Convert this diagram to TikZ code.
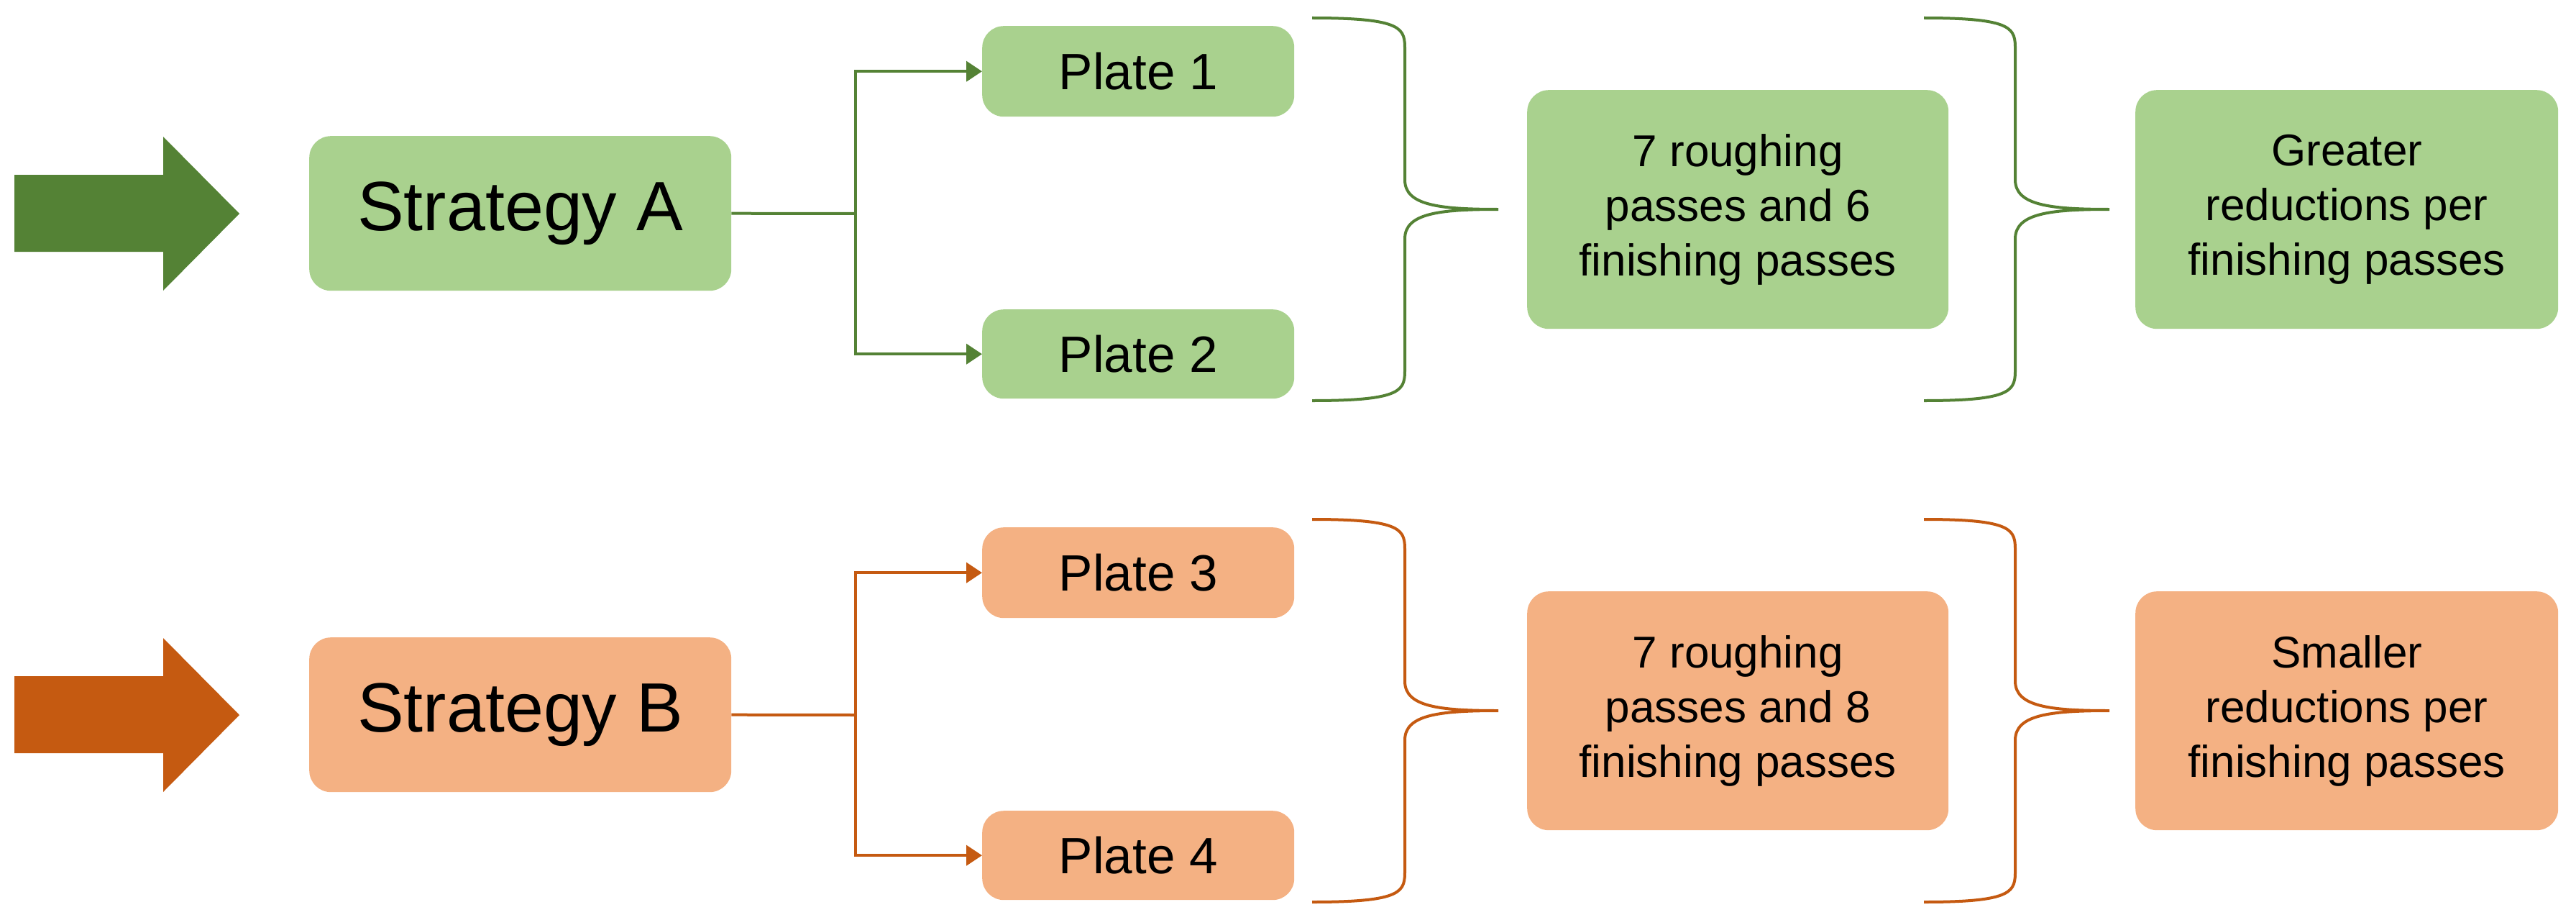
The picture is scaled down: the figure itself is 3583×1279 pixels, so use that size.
\documentclass[tikz,border=0pt]{standalone}
\usepackage{fontspec}
\setmainfont{Liberation Sans}
\usetikzlibrary{arrows.meta}
\definecolor{gD}{HTML}{548235}\definecolor{gL}{HTML}{A9D18E}
\definecolor{oD}{HTML}{C55A11}\definecolor{oL}{HTML}{F4B183}
\tikzset{box/.style={rounded corners=30pt,inner sep=0pt,anchor=north west},
 con/.style={line width=4pt},
 brace/.style={line width=4pt}}
\newcommand{\rowdraw}[6]{% #1 suffix, #2 yoff, #3 dark, #4 light, #5 plates, #6 texts
\begin{scope}[yshift=-#2pt]
 \fill[#3] (20,-243) -- (227,-243) -- (227,-190) -- (333,-297) -- (227,-404) -- (227,-350) -- (20,-350) -- cycle;
 \node[box,fill=#4,minimum width=587pt,minimum height=215pt,font=\fontsize{97}{110}\selectfont] (s#1) at (430,-189) {Strategy #1};
 \node[box,fill=#4,minimum width=434pt,minimum height=126pt,font=\fontsize{71}{80}\selectfont] (p#1a) at (1366,-36) {Plate \csname pa#1\endcsname};
 \node[box,fill=#4,minimum width=434pt,minimum height=124pt,font=\fontsize{71}{80}\selectfont] (p#1b) at (1366,-430) {Plate \csname pb#1\endcsname};
 \coordinate (j#1) at (1190,-297);
 \draw[con,#3] (s#1.east) -- (j#1);
 \draw[con,#3,-{Triangle[length=22pt,width=28pt]}] (j#1) |- (p#1a.west);
 \draw[con,#3,-{Triangle[length=22pt,width=28pt]}] (j#1) |- (p#1b.west);
 \node[box,fill=#4,minimum width=586pt,minimum height=332pt,align=center,font=\fontsize{62}{76}\selectfont] (r#1) at (2124,-125) {#5};
 \node[box,fill=#4,minimum width=588pt,minimum height=332pt,align=center,font=\fontsize{62}{76}\selectfont] (g#1) at (2970,-125) {#6};
 \coordinate (b#1) at (1825,-25); \coordinate (c#1) at (2084,-291);
 \coordinate (d#1) at (2676,-25); \coordinate (e#1) at (2934,-291);
 \draw[brace,#3] (b#1) .. controls (1954,-25) and (1954,-40) .. (1954,-70) -- (1954,-250) .. controls (1954,-285) and (2000,-291) .. (c#1)
   .. controls (2000,-291) and (1954,-297) .. (1954,-332) -- (1954,-512) .. controls (1954,-542) and (1954,-557) .. (1825,-557);
 \draw[brace,#3] (d#1) .. controls (2803,-25) and (2803,-40) .. (2803,-70) -- (2803,-250) .. controls (2803,-285) and (2850,-291) .. (e#1)
   .. controls (2850,-291) and (2803,-297) .. (2803,-332) -- (2803,-512) .. controls (2803,-542) and (2803,-557) .. (2676,-557);
\end{scope}}
\begin{document}
\begin{tikzpicture}[x=1pt,y=1pt]
\useasboundingbox (0,0) rectangle (3583,-1279);
\def\paA{1}\def\pbA{2}\def\paB{3}\def\pbB{4}
\rowdraw{A}{0}{gD}{gL}{7 roughing\\passes and 6\\finishing passes}{Greater\\reductions per\\finishing passes}
\rowdraw{B}{697}{oD}{oL}{7 roughing\\passes and 8\\finishing passes}{Smaller\\reductions per\\finishing passes}
\end{tikzpicture}
\end{document}
